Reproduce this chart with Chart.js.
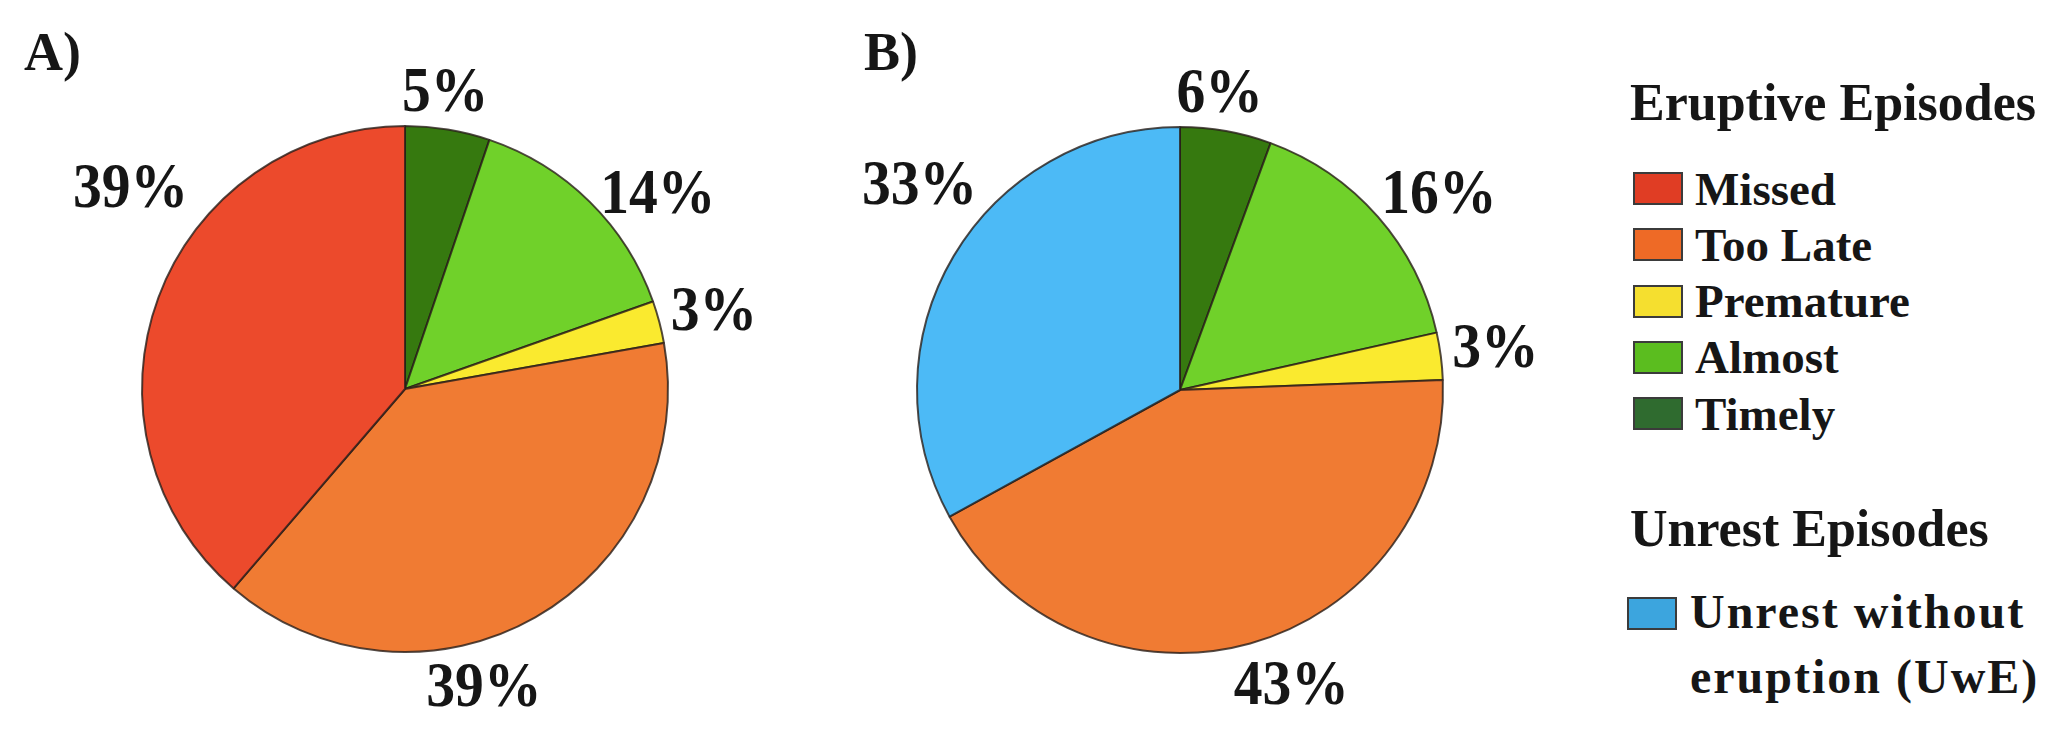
<!DOCTYPE html>
<html>
<head>
<meta charset="utf-8">
<title>Eruptive and unrest episodes</title>
<script src="https://cdn.jsdelivr.net/npm/chart.js@4.4.0/dist/chart.umd.min.js"></script>
<style>
    body { margin: 0; background: #fff; }
    #page { position: relative; width: 2067px; height: 735px; overflow: hidden; background: #fff; }
    canvas { position: absolute; top: 0; }
    .txt { position: absolute; font-family: "Liberation Serif", "DejaVu Serif", serif; font-weight: bold; color: #161616; white-space: nowrap; }
    .swatch { position: absolute; width: 46px; height: 29px; border: 2px solid #3b3b3b; }
</style>
</head>
<body>
<div id="page">
    <canvas id="pieA" width="820" height="735" style="left:0px"></canvas>
    <canvas id="pieB" width="780" height="735" style="left:820px"></canvas>
    <div id="legend"></div>
</div>
<script>
// ---- data (percent of episodes), clockwise from 12 o'clock ----
var categoriesA = ['Timely', 'Almost', 'Premature', 'Too Late', 'Missed']
var valuesA = [5.2, 14.4, 2.6, 39.1, 38.7]

var categoriesB = ['Timely', 'Almost', 'Premature', 'Too Late', 'Unrest without eruption (UwE)']
var valuesB = [5.6, 15.9, 2.9, 42.6, 33.0]

var panelTitles = ['A)', 'B)']
var eruptiveTitle = 'Eruptive Episodes'
var eruptiveItems = ['Missed', 'Too Late', 'Premature', 'Almost', 'Timely']
var unrestTitle = 'Unrest Episodes'
var unrestItems = ['Unrest without eruption (UwE)']

// ---- styles ----
var sliceColors = {
    'Missed': '#ec4a2c',
    'Too Late': '#f07b33',
    'Premature': '#faea2f',
    'Almost': '#70d12a',
    'Timely': '#36790f',
    'Unrest without eruption (UwE)': '#4cbaf6'
}
var legendColors = {
    'Missed': '#e03d24',
    'Too Late': '#ee6a26',
    'Premature': '#f5df2f',
    'Almost': '#5bbd1f',
    'Timely': '#2f6b2f',
    'Unrest without eruption (UwE)': '#3ca5de'
}

// percent labels sit outside the pie, nudged a bit like in the figure
var pctLabels = {
    id: 'pctLabels',
    afterDatasetsDraw: function (chart, args, opts) {
        var ctx = chart.ctx
        var meta = chart.getDatasetMeta(0)
        var values = chart.data.datasets[0].data
        ctx.save()
        ctx.font = 'bold 64px "Liberation Serif"'
        ctx.fillStyle = '#161616'
        ctx.textAlign = 'center'
        ctx.textBaseline = 'middle'
        meta.data.forEach(function (arc, i) {
            var p = arc.getProps(['x', 'y', 'startAngle', 'endAngle', 'outerRadius'], true)
            var a = (p.startAngle + p.endAngle) / 2 + opts.nudge[i] * Math.PI / 180
            var r = p.outerRadius + opts.pad[i]
            ctx.save()
            ctx.translate(p.x + Math.cos(a) * r, p.y + Math.sin(a) * r)
            ctx.scale(0.9, 1)
            ctx.fillText(Math.round(values[i]) + '%', 0, 0)
            ctx.restore()
        })
        ctx.restore()
    }
}

function pieConfig(categories, values, padding, nudge, pad) {
    return {
        type: 'pie',
        data: {
            labels: categories,
            datasets: [{
                data: values,
                backgroundColor: categories.map(function (c) { return sliceColors[c] }),
                borderColor: 'rgba(40,30,25,0.8)',
                borderWidth: 2
            }]
        },
        options: {
            responsive: false,
            animation: false,
            layout: { padding: padding },
            plugins: {
                legend: { display: false },
                tooltip: { enabled: false },
                pctLabels: { nudge: nudge, pad: pad }
            }
        },
        plugins: [pctLabels]
    }
}

/*------------------------------ pie A ------------------------------*/
var chartA = new Chart(document.getElementById('pieA'), pieConfig(
    categoriesA, valuesA,
    { top: 125, bottom: 82, left: 141, right: 151 },
    [-1.6, 8.0, 1.1, 15.0, 15.6],
    [34, 55, 55, 48, 76]
))

/*------------------------------ pie B ------------------------------*/
var chartB = new Chart(document.getElementById('pieB'), pieConfig(
    categoriesB, valuesB,
    { top: 126, bottom: 81, left: 96, right: 156 },
    [-2.4, 4.5, 0.2, -5.0, 7.3],
    [34, 60, 55, 55, 67]
))

/*------------------------------ titles + legend (html text) ------------------------------*/
var page = document.getElementById('page')

function addText(str, left, baseline, size, spacing) {
    var d = document.createElement('div')
    d.className = 'txt'
    d.textContent = str
    d.style.left = left + 'px'
    d.style.fontSize = size + 'px'
    d.style.lineHeight = size + 'px'
    d.style.top = (baseline - size * 0.8375) + 'px'
    if (spacing) d.style.letterSpacing = spacing + 'px'
    page.appendChild(d)
}

function addSwatch(color, left, top) {
    var s = document.createElement('div')
    s.className = 'swatch'
    s.style.background = color
    s.style.left = left + 'px'
    s.style.top = top + 'px'
    page.appendChild(s)
}

addText(panelTitles[0], 24, 70, 54)
addText(panelTitles[1], 864, 70, 54)

addText(eruptiveTitle, 1630, 121, 52)
eruptiveItems.forEach(function (name, i) {
    var base = 205 + i * 56.25
    addSwatch(legendColors[name], 1633, base - 33)
    addText(name, 1695, base, 47)
})

addText(unrestTitle, 1630, 547, 52)
addSwatch(legendColors[unrestItems[0]], 1627, 597)
addText('Unrest without', 1690, 628, 48, 2)
addText('eruption (UwE)', 1690, 693, 48, 2)
</script>
</body>
</html>
